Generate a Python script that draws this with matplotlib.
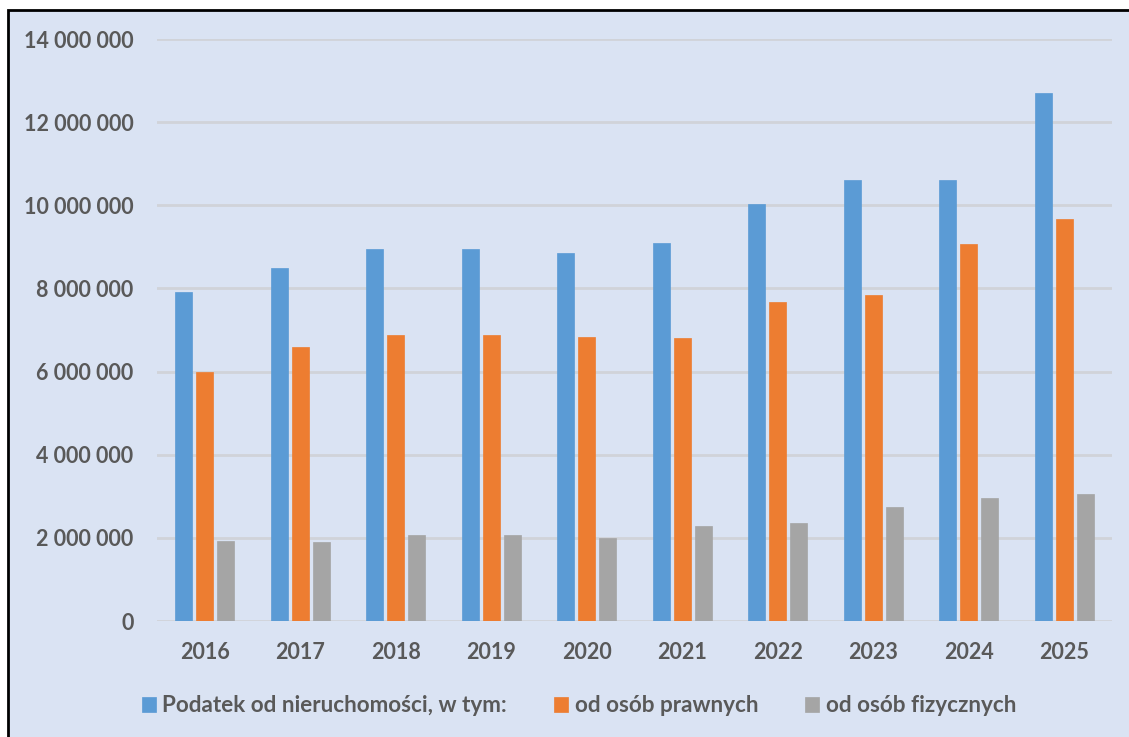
import numpy as np
import matplotlib.pyplot as plt
from matplotlib.patches import Rectangle
from matplotlib.ticker import FuncFormatter

years = ["2016", "2017", "2018", "2019", "2020", "2021", "2022", "2023", "2024", "2025"]
total = [7.91, 8.48, 8.95, 8.95, 8.85, 9.09, 10.03, 10.60, 10.60, 12.70]
legal = [6.00, 6.58, 6.87, 6.88, 6.83, 6.81, 7.67, 7.84, 9.07, 9.67]
natural = [1.92, 1.90, 2.07, 2.07, 2.00, 2.29, 2.36, 2.74, 2.96, 3.05]
labels = ["Podatek od nieruchomości, w tym:", "od osób prawnych", "od osób fizycznych"]
colors = ["#5B9BD5", "#ED7D31", "#A5A5A5"]

plt.rcParams['font.family'] = ['Lato', 'DejaVu Sans']
text_col = "#595959"
bg = "#DAE3F3"

fig = plt.figure(figsize=(11.29, 7.37), dpi=100)
fig.patch.set_facecolor("white")
# frame around the chart (only left and top visible in the reference)
fig.patches.append(Rectangle((8 / 1129, -0.1), 1.2, 1 - 10 / 737 + 0.1,
                             transform=fig.transFigure, facecolor=bg,
                             edgecolor="black", linewidth=2, zorder=-1))

ax = fig.add_axes([157 / 1129, 1 - 621 / 737, 955 / 1129, 582 / 737])
ax.set_facecolor("none")

x = np.arange(len(years))
step = 0.22
w = 0.178
for i, (vals, c, lab) in enumerate(zip([total, legal, natural], colors, labels)):
    ax.bar(x + (i - 1) * step, np.array(vals) * 1e6, width=w, color=c,
           edgecolor=c, linewidth=0.5, label=lab, zorder=3)

ax.set_xlim(-0.5, len(years) - 0.5)
ax.set_ylim(0, 14e6)
ax.set_yticks(np.arange(0, 14e6 + 1, 2e6))
ax.yaxis.set_major_formatter(FuncFormatter(lambda v, p: f"{int(v):,}".replace(",", " ")))
ax.set_xticks(x)
ax.set_xticklabels(years)
ax.grid(axis="y", color="#D0D3D9", linewidth=2, zorder=0)
for s in ax.spines.values():
    s.set_visible(False)
ax.tick_params(axis="both", length=0, labelsize=15.5, labelcolor=text_col)
ax.tick_params(axis="y", pad=17)
ax.tick_params(axis="x", pad=15)
for t in ax.get_xticklabels() + ax.get_yticklabels():
    t.set_fontweight("bold")

leg = fig.legend(loc="center", bbox_to_anchor=(0.513, 1 - 706 / 737), ncol=3,
                 frameon=False, handlelength=0.6, handleheight=0.6,
                 handletextpad=0.3, columnspacing=2.1,
                 prop={"size": 16.2, "weight": "bold"})
for t in leg.get_texts():
    t.set_color(text_col)

plt.savefig("out.png", dpi=100)
